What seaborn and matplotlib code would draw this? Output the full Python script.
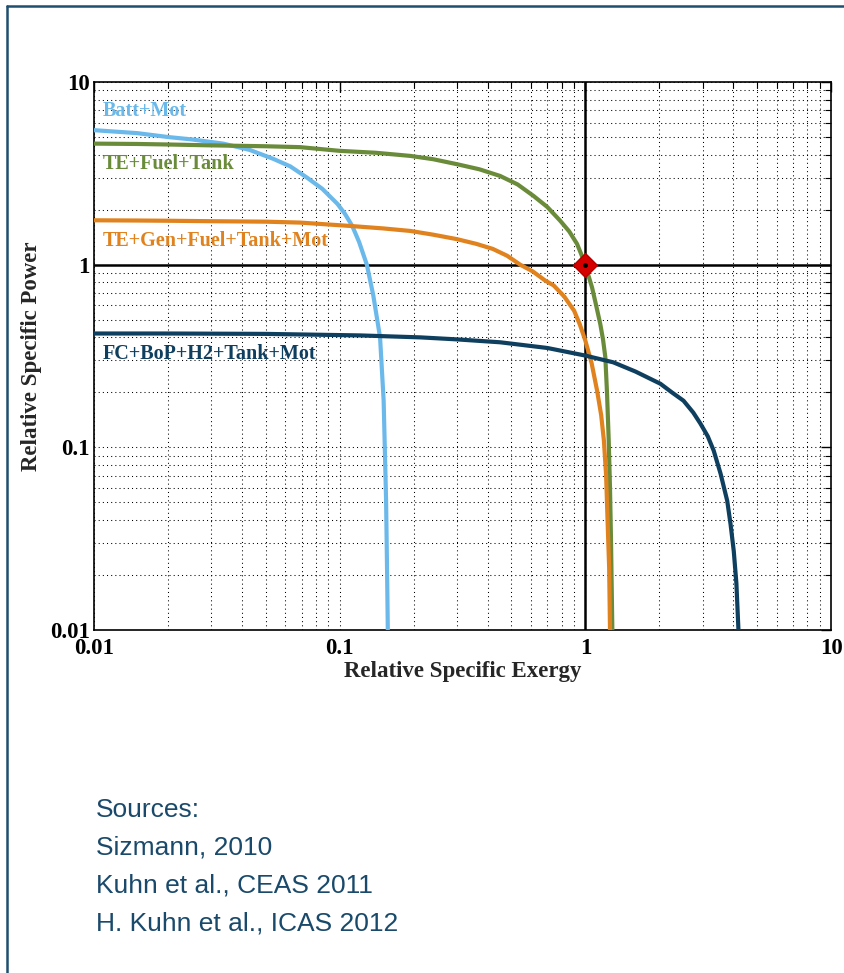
import numpy as np
import pandas as pd
import matplotlib
matplotlib.use("Agg")
import matplotlib.pyplot as plt
import matplotlib.ticker as mticker
from matplotlib.lines import Line2D
import seaborn as sns

# ---- data ----
batt_x = [0.01, 0.015, 0.02, 0.025, 0.0336, 0.043, 0.0536, 0.063, 0.0738, 0.085, 0.098, 0.105,
          0.1125, 0.12, 0.129, 0.137, 0.146, 0.151, 0.1545, 0.156, 0.157]
batt_y = [5.45, 5.25, 5.0, 4.85, 4.6, 4.25, 3.8, 3.45, 2.99, 2.6, 2.15, 1.9,
          1.63, 1.33, 1.0, 0.68, 0.40, 0.18, 0.051, 0.02, 0.01]

te_x = [0.01, 0.015, 0.02, 0.03, 0.05, 0.069, 0.1, 0.14, 0.194, 0.24, 0.30, 0.37, 0.45, 0.53,
        0.615, 0.7, 0.79, 0.86, 0.925, 0.96, 1.0, 1.03, 1.065, 1.1, 1.15, 1.18, 1.206, 1.225,
        1.245, 1.26, 1.272, 1.288]
te_y = [4.6, 4.58, 4.55, 4.5, 4.45, 4.4, 4.2, 4.1, 3.94, 3.78, 3.55, 3.33, 3.06, 2.75,
        2.38, 2.07, 1.74, 1.52, 1.30, 1.15, 1.0, 0.87, 0.75, 0.62, 0.474, 0.39, 0.312, 0.2,
        0.109, 0.06, 0.031, 0.01]

gen_x = [0.01, 0.015, 0.02, 0.03, 0.05, 0.069, 0.110, 0.15, 0.194, 0.24, 0.30, 0.36, 0.42, 0.48,
         0.543, 0.61, 0.687, 0.743, 0.82, 0.90, 0.95, 1.0, 1.06, 1.116, 1.16, 1.19, 1.215,
         1.233, 1.25, 1.26]
gen_y = [1.75, 1.745, 1.74, 1.73, 1.72, 1.70, 1.63, 1.58, 1.53, 1.46, 1.38, 1.30, 1.22, 1.12,
         1.0, 0.92, 0.818, 0.77, 0.67, 0.56, 0.47, 0.384, 0.29, 0.205, 0.15, 0.109, 0.07,
         0.038, 0.022, 0.01]

fc_x = [0.01, 0.02, 0.05, 0.121, 0.213, 0.3, 0.45, 0.7, 1.0, 1.30, 1.6, 2.02, 2.25, 2.51, 2.75,
        2.94, 3.15, 3.33, 3.55, 3.78, 3.9, 4.02, 4.12, 4.2]
fc_y = [0.42, 0.42, 0.418, 0.41, 0.40, 0.39, 0.376, 0.35, 0.318, 0.292, 0.26, 0.223, 0.2, 0.18,
        0.155, 0.135, 0.115, 0.096, 0.072, 0.051, 0.038, 0.027, 0.018, 0.01]

series_names = ["Batt+Mot", "TE+Fuel+Tank", "TE+Gen+Fuel+Tank+Mot", "FC+BoP+H2+Tank+Mot"]
series_colors = ["#6BB9EA", "#6A8C3A", "#E0821E", "#0F3F5F"]
label_y = [6.94, 3.56, 1.35, 0.326]

ref_point_x = [1.0]
ref_point_y = [1.0]

sources = ["Sources:", "Sizmann, 2010", "Kuhn et al., CEAS 2011", "H. Kuhn et al., ICAS 2012"]

# ---- build table ----
frames = []
for name, xs, ys in zip(series_names, [batt_x, te_x, gen_x, fc_x], [batt_y, te_y, gen_y, fc_y]):
    frames.append(pd.DataFrame({"exergy": xs, "power": ys, "series": name}))
df = pd.concat(frames, ignore_index=True)

sns.set_style("white")
plt.rcParams["font.family"] = ["Liberation Serif", "DejaVu Serif"]

fig = plt.figure(figsize=(8.44, 9.73), dpi=100)
ax = fig.add_axes([0.1114, 0.3525, 0.8732, 0.5632])

ax.set_xscale("log")
ax.set_yscale("log")
ax.set_xlim(0.01, 10)
ax.set_ylim(0.01, 10)

ax.grid(True, which="both", linestyle=(0, (1, 3)), color="black", linewidth=0.75)
ax.set_axisbelow(True)

sns.lineplot(data=df, x="exergy", y="power", hue="series", hue_order=series_names,
             palette=series_colors, sort=False, estimator=None, units="series",
             linewidth=3, legend=False, ax=ax, zorder=3)

ax.axhline(1, color="black", linewidth=1.8, zorder=2.5)
ax.axvline(1, color="black", linewidth=1.8, zorder=2.5)

ax.plot(ref_point_x, ref_point_y, marker="D", markersize=12, color="#D40000",
        markeredgecolor="#B00000", linestyle="none", zorder=5)
ax.plot(ref_point_x, ref_point_y, marker="o", markersize=2.5, color="black",
        linestyle="none", zorder=6)

for name, col, ly in zip(series_names, series_colors, label_y):
    ax.text(0.0108, ly, name, color=col, fontsize=14.5, fontweight="bold",
            ha="left", va="center", zorder=4)

ax.xaxis.set_major_locator(mticker.LogLocator(base=10))
ax.yaxis.set_major_locator(mticker.LogLocator(base=10))
ax.xaxis.set_minor_locator(mticker.LogLocator(base=10, subs=np.arange(2, 10)))
ax.yaxis.set_minor_locator(mticker.LogLocator(base=10, subs=np.arange(2, 10)))
ax.xaxis.set_minor_formatter(mticker.NullFormatter())
ax.yaxis.set_minor_formatter(mticker.NullFormatter())
fmt = mticker.FuncFormatter(lambda v, p: ("%g" % v))
ax.xaxis.set_major_formatter(fmt)
ax.yaxis.set_major_formatter(fmt)

ax.tick_params(which="both", direction="in", top=True, right=True, colors="black")
ax.tick_params(which="major", length=7, width=1, labelsize=16.5, pad=3)
ax.tick_params(axis="x", which="major", pad=6)
ax.tick_params(which="minor", length=4, width=0.8)
for lab in ax.get_xticklabels() + ax.get_yticklabels():
    lab.set_fontweight("bold")

for sp in ax.spines.values():
    sp.set_color("black")
    sp.set_linewidth(1.2)

ax.set_xlabel("Relative Specific Exergy", fontsize=16.5, fontweight="bold", labelpad=1)
ax.set_ylabel("Relative Specific Power", fontsize=16.5, fontweight="bold", labelpad=6)

# frame lines
frame_col = "#1F4E6E"
fig.add_artist(Line2D([7 / 844, 7 / 844], [0, 1 - 6 / 973], transform=fig.transFigure,
                      color=frame_col, linewidth=1.8))
fig.add_artist(Line2D([7 / 844, 1], [1 - 6 / 973, 1 - 6 / 973], transform=fig.transFigure,
                      color=frame_col, linewidth=1.8))

for i, s in enumerate(sources):
    fig.text(96 / 844, 1 - (810 + 38 * i) / 973, s, fontsize=19, color="#1A4A6B",
             family=["Liberation Sans Narrow", "Liberation Sans", "DejaVu Sans"],
             ha="left", va="center")

fig.savefig("out.png", dpi=100)
